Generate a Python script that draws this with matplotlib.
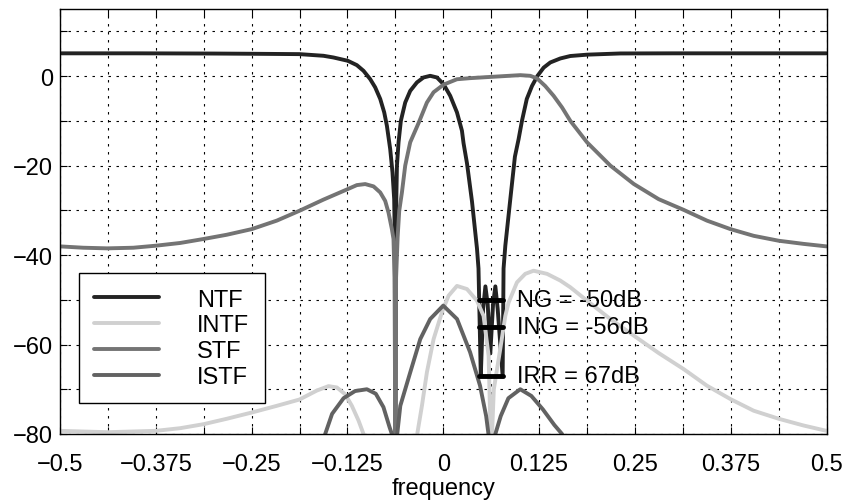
import numpy as np
import matplotlib
matplotlib.use("Agg")
import matplotlib.pyplot as plt

# =========================
# DATA
# =========================
nan = np.nan

ntf_f = [-0.5, -0.4, -0.3, -0.25, -0.1876, -0.1562, -0.1432, -0.1245, -0.1127, -0.104,
         -0.0953, -0.0888, -0.0822, -0.077, -0.0735, -0.0692, -0.0662, -0.064, -0.0632,
         -0.0625, -0.0615, -0.0604, -0.0583, -0.0553, -0.0496, -0.0431, -0.0343, -0.0257,
         -0.017, -0.0082, 0.0004, 0.0091, 0.0179, 0.0244, 0.0265, 0.031, 0.0375, 0.044,
         0.046, 0.049, 0.052, 0.055, 0.058, 0.0614, 0.065, 0.068, 0.071, 0.0775,
         0.0787, 0.081, 0.0875, 0.0935, 0.0983, 0.1027, 0.109, 0.1158, 0.123, 0.131,
         0.1397, 0.1527, 0.1658, 0.1876, 0.231, 0.3, 0.4, 0.5]
ntf_db = [5.1, 5.1, 5.05, 5.0, 4.92, 4.55, 4.17, 3.43, 2.46, 1.19,
          -0.67, -2.5, -5.1, -8.1, -11.1, -16.3, -21.5, -27.5, -36,
          -85, -30, -20, -14.8, -10, -5.9, -3.3, -1.4, -0.3,
          0.07, -0.3, -1.8, -4.4, -8.1, -12.2, -15, -19.5, -28, -38.5,
          -43, -67, -52, -47, -51, -62, -51, -47, -52, -67,
          -43, -37.9, -27.5, -18, -14.1, -10, -5.1, -2.2, 0.07, 1.9,
          3.06, 3.95, 4.5, 4.8, 5.07, 5.1, 5.1, 5.1]

intf_f = [-0.5, -0.438, -0.375, -0.343, -0.3124, -0.2824, -0.2498, -0.217, -0.1876, -0.165,
          -0.1497, -0.1388, -0.128, -0.1192, -0.1105, -0.104, -0.100, nan,
          -0.037, -0.0343, -0.0278, -0.0213, -0.0126, -0.0017, 0.0069, 0.0179, 0.031, 0.044,
          0.0526, 0.0592, 0.0625, 0.066, 0.0744, 0.081, 0.0853, 0.0962, 0.107, 0.1179,
          0.1354, 0.1527, 0.1658, 0.1876, 0.218, 0.2485, 0.281, 0.3137, 0.344, 0.3747,
          0.405, 0.4377, 0.470, 0.5]
intf_db = [-79.3, -79.6, -79.3, -78.7, -77.8, -76.6, -75.2, -73.7, -72.3, -70.3,
           -69.3, -69.6, -71.1, -73.7, -77, -80, -85, nan,
           -85, -80.4, -73.7, -66.2, -58.8, -52.8, -49.1, -46.9, -47.6, -50.2,
           -53.6, -62.5, -85, -70, -61, -53.6, -50.6, -46.1, -44.2, -43.5,
           -44.2, -45.7, -47.2, -50.2, -54.3, -58, -61.9, -65.5, -69.2, -72.2,
           -74.8, -76.6, -78.1, -79.3]

stf_f = [-0.5, -0.4696, -0.4382, -0.4043, -0.3751, -0.3433, -0.3124, -0.2824, -0.2498, -0.2171,
         -0.1876, -0.1562, -0.1245, -0.1127, -0.1018, -0.0909, -0.0822, -0.0757, -0.0714,
         -0.067, -0.0649, -0.0635, -0.0625, -0.0615, -0.0595, -0.0574, -0.0539, -0.0496,
         -0.0431, -0.0322, -0.0213, -0.0126, 0.0004, 0.0178, 0.035, 0.057, 0.0787, 0.1005,
         0.1136, 0.1223, 0.133, 0.144, 0.155, 0.1658, 0.1876, 0.218, 0.2485, 0.281,
         0.3137, 0.344, 0.3747, 0.405, 0.4377, 0.470, 0.5]
stf_db = [-38.06, -38.36, -38.5, -38.36, -37.91, -37.3, -36.4, -35.46, -34.2, -32.3,
          -30.1, -27.6, -25.25, -24.36, -24.13, -24.65, -26, -27.9, -30.5,
          -34.2, -36.4, -45, -85, -45, -36, -30.1, -26, -20,
          -14.8, -10.5, -5.9, -3.6, -1.9, -0.7, -0.45, -0.22, 0.0, 0.22,
          0.07, -0.5, -2.2, -4.4, -7.0, -10, -14.8, -20, -24.1, -27.5,
          -29.9, -32.3, -34.2, -35.7, -36.8, -37.5, -38.06]

istf_f = [-0.158, -0.154, -0.145, -0.13, -0.115, -0.0996, -0.088, -0.078, -0.070, -0.067,
          -0.066, nan, -0.061, -0.06, -0.056, -0.043, -0.030, -0.017, 0.0, 0.018,
          0.035, 0.048, 0.056, 0.059, 0.060, nan, 0.066, 0.068, 0.075, 0.085,
          0.1005, 0.115, 0.13, 0.145, 0.155, 0.158]
istf_db = [-84, -80, -75.5, -72, -70.4, -70, -71, -74, -78.5, -80,
           -84, nan, -84, -80, -73.7, -66.2, -58.8, -54.3, -51.3, -54.3,
           -61.7, -69.2, -76, -80, -84, nan, -84, -80, -76, -72,
           -70, -71.5, -74.5, -78, -80, -84]

band = [1 / 16 - 1 / 64, 1 / 16 + 1 / 64]
ng, ing, irr = -50, -56, -67

xticks = np.arange(-0.5, 0.5001, 0.0625)
xlabels = ["\u22120.5", "", "\u22120.375", "", "\u22120.25", "", "\u22120.125", "", "0",
           "", "0.125", "", "0.25", "", "0.375", "", "0.5"]
yticks = np.arange(-80, 11, 10)
ylabels = ["\u221280", "", "\u221260", "", "\u221240", "", "\u221220", "", "0", ""]

# =========================
# FIGURE
# =========================
plt.rcParams["font.family"] = ["Liberation Sans", "DejaVu Sans"]
fs = 17

fig = plt.figure(figsize=(8.47, 5.02), dpi=100)
ax = fig.add_axes([0.0708, 0.1335, 0.9050, 0.8465])

lw = 2.8
ax.plot(ntf_f, ntf_db, color="#232323", lw=lw, label="NTF", solid_capstyle="round")
ax.plot(intf_f, intf_db, color="#d0d0d0", lw=lw, label="INTF", solid_capstyle="round")
ax.plot(stf_f, stf_db, color="#747474", lw=lw, label="STF", solid_capstyle="round")
ax.plot(istf_f, istf_db, color="#626262", lw=lw, label="ISTF", solid_capstyle="round")

# noise gain / image rejection bars
for lvl in (ng, ing, irr):
    ax.plot(band, [lvl, lvl], color="black", lw=3.5, solid_capstyle="round", zorder=5)

ax.text(0.096, ng, "NG = -50dB", fontsize=fs, va="center", ha="left")
ax.text(0.096, ing, "ING = -56dB", fontsize=fs, va="center", ha="left")
ax.text(0.096, irr, "IRR = 67dB", fontsize=fs, va="center", ha="left")

ax.set_xlim(-0.5, 0.5)
ax.set_ylim(-80, 15)
ax.set_xticks(xticks)
ax.set_xticklabels(xlabels, fontsize=fs)
ax.set_yticks(yticks)
ax.set_yticklabels(ylabels, fontsize=fs)
ax.tick_params(direction="in", top=True, right=True, length=5, width=0.8)
ax.tick_params(axis="x", pad=14)
ax.tick_params(axis="y", pad=5)
ax.grid(True, color="black", linestyle=(0, (2.2, 5)), linewidth=0.8)
for s in ax.spines.values():
    s.set_linewidth(1.0)
ax.set_xlabel("frequency", fontsize=fs, labelpad=1)

leg = ax.legend(loc="upper left", bbox_to_anchor=(0.0248, 0.378), borderaxespad=0,
                fontsize=fs, handlelength=2.75, handletextpad=1.6, labelspacing=0.16,
                borderpad=0.65, fancybox=False, framealpha=1, edgecolor="black")
leg.get_frame().set_linewidth(1.0)
for h in leg.get_lines():
    h.set_solid_capstyle("round")

fig.savefig("out.png", dpi=100)
